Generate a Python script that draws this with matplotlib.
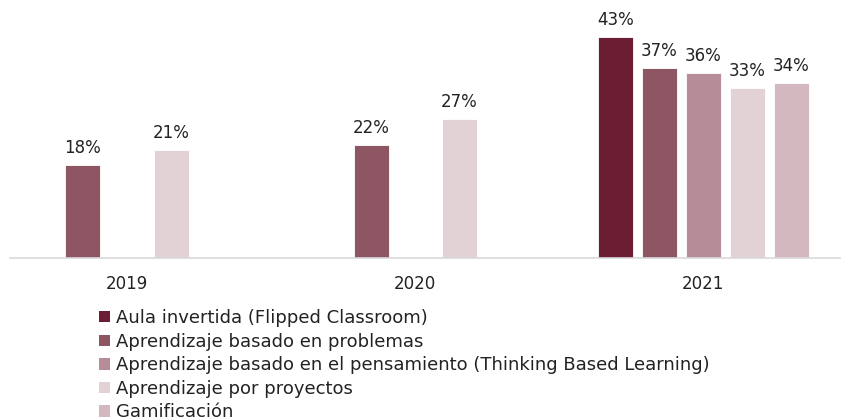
import numpy as np
import matplotlib
matplotlib.use("Agg")
import matplotlib.pyplot as plt
from matplotlib.patches import Patch

plt.rcParams['font.family'] = ['DejaVu Sans']

years = ["2019", "2020", "2021"]
series = [
    "Aula invertida (Flipped Classroom)",
    "Aprendizaje basado en problemas",
    "Aprendizaje basado en el pensamiento (Thinking Based Learning)",
    "Aprendizaje por proyectos",
    "Gamificación",
]
values = [
    [None, None, 43],
    [18, 22, 37],
    [None, None, 36],
    [21, 27, 33],
    [None, None, 34],
]
colors = ["#6B1D33", "#8E5563", "#B58C98", "#E2D1D5", "#D3B8BF"]

fig = plt.figure(figsize=(8.42, 4.19), dpi=100)
ax = fig.add_axes([10 / 842, 1 - 258 / 419, 830 / 842, 258 / 419])

x = np.arange(len(years))
step = 0.1528
width = 0.1215
for i, (vals, c) in enumerate(zip(values, colors)):
    off = (i - 2) * step
    for j, v in enumerate(vals):
        if v is None:
            continue
        ax.bar(x[j] + off, v, width, color=c, edgecolor="white", linewidth=0.6)
        ax.text(x[j] + off, v + 1.6, f"{v}%", ha="center", va="bottom",
                fontsize=12, color="#222222")

ax.set_xlim(-0.406, 2.474)
ax.set_ylim(0, 50.2)
ax.set_xticks(x)
ax.set_xticklabels(years, fontsize=12, color="#222222")
ax.tick_params(axis="x", length=0, pad=12)
ax.set_yticks([])
for s in ["top", "right", "left"]:
    ax.spines[s].set_visible(False)
ax.spines["bottom"].set_color("#d9d9d9")
ax.spines["bottom"].set_linewidth(1.2)

handles = [Patch(facecolor=c, edgecolor="none") for c in colors]
fig.legend(handles, series, loc="upper left", bbox_to_anchor=(99 / 842, 1 - 309 / 419),
           frameon=False, fontsize=13, handlelength=0.6, handleheight=0.6,
           handletextpad=0.35, labelspacing=0.31, borderaxespad=0, borderpad=0,
           labelcolor="#222222")

fig.savefig("out.png", dpi=100)
